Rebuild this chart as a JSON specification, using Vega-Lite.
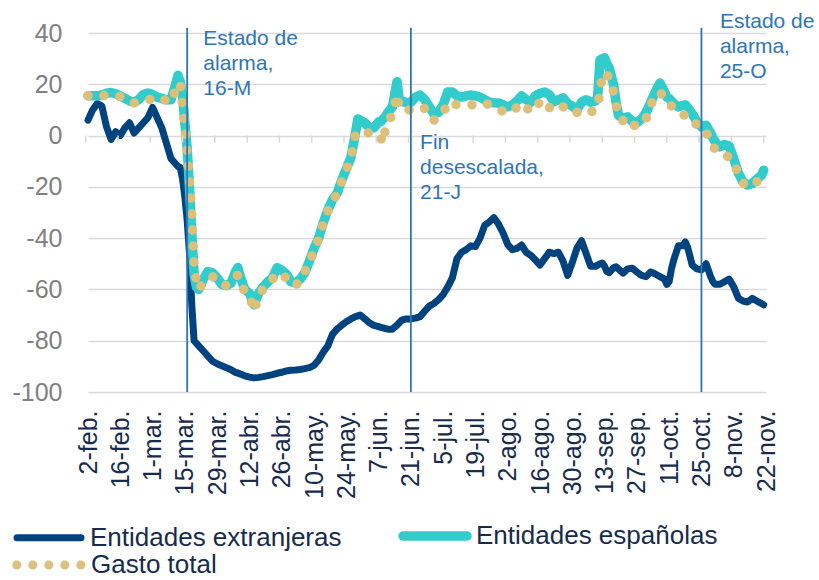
{
  "$schema": "https://vega.github.io/schema/vega-lite/v6.json",
  "width": 678,
  "height": 359,
  "autosize": "none",
  "padding": {"left": 88, "top": 33, "right": 53, "bottom": 188},
  "background": "white",
  "config": {"view": {"stroke": null}, "font": "Liberation Sans"},
  "datasets": {
    "series": [
      {"d":"2020-02-02","e":6,"s":15.5,"g":15.5},
      {"d":"2020-02-04","e":10,"s":15.5,"g":15.5},
      {"d":"2020-02-06","e":12.5,"s":15.5,"g":15.4},
      {"d":"2020-02-08","e":11.5,"s":15.8,"g":15.5},
      {"d":"2020-02-10","e":3.5,"s":16.5,"g":15.7},
      {"d":"2020-02-12","e":-1.5,"s":16.8,"g":15.8},
      {"d":"2020-02-14","e":1.5,"s":16.3,"g":15.5},
      {"d":"2020-02-16","e":0,"s":15.5,"g":15.2},
      {"d":"2020-02-18","e":3,"s":14.5,"g":14.5},
      {"d":"2020-02-20","e":5,"s":13.5,"g":13.3},
      {"d":"2020-02-22","e":1,"s":13,"g":12.7},
      {"d":"2020-02-24","e":3,"s":14,"g":13},
      {"d":"2020-02-26","e":5,"s":16,"g":13.5},
      {"d":"2020-02-28","e":7,"s":16.6,"g":13.8},
      {"d":"2020-03-01","e":11,"s":16,"g":14.5},
      {"d":"2020-03-03","e":7,"s":15,"g":15},
      {"d":"2020-03-05","e":3,"s":14.5,"g":14.5},
      {"d":"2020-03-07","e":-3,"s":14,"g":13.5},
      {"d":"2020-03-09","e":-9,"s":14,"g":13},
      {"d":"2020-03-11","e":-11,"s":20,"g":18},
      {"d":"2020-03-12","e":-12,"s":23.5,"g":20},
      {"d":"2020-03-13","e":-12.5,"s":21,"g":20.5},
      {"d":"2020-03-14","e":-17,"s":15,"g":12},
      {"d":"2020-03-15","e":-24,"s":5,"g":3},
      {"d":"2020-03-16","e":-33,"s":-5,"g":-7},
      {"d":"2020-03-17","e":-46,"s":-20,"g":-16},
      {"d":"2020-03-18","e":-66,"s":-38,"g":-30},
      {"d":"2020-03-19","e":-80,"s":-54,"g":-50},
      {"d":"2020-03-20","e":-81,"s":-59,"g":-57},
      {"d":"2020-03-21","e":-82,"s":-60,"g":-60},
      {"d":"2020-03-23","e":-84,"s":-56,"g":-57.5},
      {"d":"2020-03-25","e":-86,"s":-53,"g":-55.5},
      {"d":"2020-03-27","e":-88,"s":-53.5,"g":-55},
      {"d":"2020-03-29","e":-89,"s":-55.5,"g":-56.5},
      {"d":"2020-03-31","e":-89.8,"s":-58,"g":-58.3},
      {"d":"2020-04-02","e":-90.5,"s":-58.5,"g":-58.5},
      {"d":"2020-04-04","e":-91.3,"s":-57.5,"g":-57.5},
      {"d":"2020-04-06","e":-92.4,"s":-53,"g":-55},
      {"d":"2020-04-07","e":-92.6,"s":-51.5,"g":-54.4},
      {"d":"2020-04-08","e":-93,"s":-55,"g":-57},
      {"d":"2020-04-10","e":-93.7,"s":-60,"g":-61},
      {"d":"2020-04-12","e":-94.2,"s":-61.5,"g":-62.2},
      {"d":"2020-04-14","e":-94.5,"s":-66,"g":-68.5},
      {"d":"2020-04-16","e":-94.3,"s":-61.5,"g":-62.2},
      {"d":"2020-04-18","e":-94,"s":-59,"g":-59.8},
      {"d":"2020-04-20","e":-93.6,"s":-57,"g":-58},
      {"d":"2020-04-22","e":-93.2,"s":-55.5,"g":-56},
      {"d":"2020-04-24","e":-92.7,"s":-51.5,"g":-53.6},
      {"d":"2020-04-26","e":-92.3,"s":-52.5,"g":-54.5},
      {"d":"2020-04-28","e":-91.8,"s":-54,"g":-55.5},
      {"d":"2020-04-30","e":-91.5,"s":-57,"g":-58},
      {"d":"2020-05-02","e":-91.4,"s":-57.5,"g":-58.5},
      {"d":"2020-05-04","e":-91.2,"s":-56,"g":-56.5},
      {"d":"2020-05-06","e":-90.9,"s":-53.5,"g":-53},
      {"d":"2020-05-08","e":-90.5,"s":-49,"g":-49.5},
      {"d":"2020-05-10","e":-89.6,"s":-44,"g":-45},
      {"d":"2020-05-12","e":-87.5,"s":-40,"g":-40.5},
      {"d":"2020-05-14","e":-84.5,"s":-34,"g":-34.5},
      {"d":"2020-05-16","e":-82,"s":-29,"g":-29.5},
      {"d":"2020-05-18","e":-77.5,"s":-25,"g":-25.5},
      {"d":"2020-05-20","e":-75.5,"s":-22.5,"g":-23},
      {"d":"2020-05-22","e":-74,"s":-17.5,"g":-18},
      {"d":"2020-05-24","e":-72.6,"s":-13,"g":-13.5},
      {"d":"2020-05-26","e":-71.5,"s":-8.5,"g":-9},
      {"d":"2020-05-28","e":-70.6,"s":1,"g":0.5},
      {"d":"2020-05-29","e":-70.3,"s":6.5,"g":1.5},
      {"d":"2020-05-30","e":-70,"s":6,"g":1.5},
      {"d":"2020-06-01","e":-71.4,"s":5,"g":1},
      {"d":"2020-06-03","e":-73,"s":3,"g":1},
      {"d":"2020-06-05","e":-74,"s":3,"g":1},
      {"d":"2020-06-07","e":-74.5,"s":5.3,"g":0.5},
      {"d":"2020-06-08","e":-74.8,"s":5.5,"g":-1},
      {"d":"2020-06-09","e":-75,"s":6.5,"g":-3},
      {"d":"2020-06-10","e":-75.3,"s":7.5,"g":3},
      {"d":"2020-06-11","e":-75.5,"s":9,"g":5.5},
      {"d":"2020-06-13","e":-75.5,"s":11.2,"g":8},
      {"d":"2020-06-15","e":-73.9,"s":21,"g":16},
      {"d":"2020-06-16","e":-73,"s":14,"g":11},
      {"d":"2020-06-17","e":-72,"s":13.5,"g":10},
      {"d":"2020-06-19","e":-71.5,"s":12.8,"g":10},
      {"d":"2020-06-21","e":-71.5,"s":13,"g":10},
      {"d":"2020-06-23","e":-71.2,"s":15,"g":10.5},
      {"d":"2020-06-25","e":-70.6,"s":15.8,"g":11.2},
      {"d":"2020-06-27","e":-68.5,"s":14,"g":10.5},
      {"d":"2020-06-29","e":-66.5,"s":11.2,"g":7},
      {"d":"2020-07-01","e":-65.5,"s":8.5,"g":6},
      {"d":"2020-07-03","e":-64,"s":9,"g":7.5},
      {"d":"2020-07-05","e":-62,"s":12,"g":8.5},
      {"d":"2020-07-07","e":-59,"s":17,"g":13},
      {"d":"2020-07-09","e":-55.5,"s":17,"g":12.5},
      {"d":"2020-07-11","e":-48,"s":15.5,"g":12},
      {"d":"2020-07-13","e":-45.5,"s":15,"g":12},
      {"d":"2020-07-15","e":-44.5,"s":15.5,"g":12},
      {"d":"2020-07-17","e":-43,"s":15.8,"g":12},
      {"d":"2020-07-19","e":-43.3,"s":15.5,"g":12},
      {"d":"2020-07-21","e":-40,"s":15,"g":12.5},
      {"d":"2020-07-23","e":-35,"s":14,"g":12.7},
      {"d":"2020-07-25","e":-33.7,"s":13,"g":12},
      {"d":"2020-07-27","e":-32,"s":12.8,"g":11},
      {"d":"2020-07-29","e":-34.5,"s":12.7,"g":10},
      {"d":"2020-07-31","e":-38,"s":12,"g":9.5},
      {"d":"2020-08-02","e":-42.5,"s":11.2,"g":8.8},
      {"d":"2020-08-04","e":-44.5,"s":12,"g":9.5},
      {"d":"2020-08-06","e":-44,"s":13.5,"g":11},
      {"d":"2020-08-08","e":-42.7,"s":15.5,"g":12.7},
      {"d":"2020-08-10","e":-45.5,"s":14,"g":11},
      {"d":"2020-08-12","e":-46.7,"s":13,"g":9.2},
      {"d":"2020-08-14","e":-48.5,"s":15.5,"g":11.2},
      {"d":"2020-08-16","e":-50.5,"s":16.5,"g":13},
      {"d":"2020-08-18","e":-48,"s":17,"g":13.9},
      {"d":"2020-08-20","e":-45.5,"s":16,"g":11},
      {"d":"2020-08-22","e":-46,"s":13.2,"g":9.5},
      {"d":"2020-08-24","e":-45.5,"s":14,"g":10.5},
      {"d":"2020-08-26","e":-49,"s":14.7,"g":11.2},
      {"d":"2020-08-28","e":-54.5,"s":12.5,"g":10.5},
      {"d":"2020-08-30","e":-49.5,"s":11.5,"g":8.8},
      {"d":"2020-09-01","e":-44,"s":10,"g":9},
      {"d":"2020-09-03","e":-41,"s":13,"g":10},
      {"d":"2020-09-05","e":-46,"s":14,"g":9.2},
      {"d":"2020-09-07","e":-51,"s":13,"g":9.2},
      {"d":"2020-09-09","e":-51,"s":13.5,"g":10},
      {"d":"2020-09-10","e":-50.5,"s":15,"g":11.2},
      {"d":"2020-09-11","e":-50,"s":29.5,"g":17},
      {"d":"2020-09-12","e":-49.7,"s":30,"g":23.6},
      {"d":"2020-09-13","e":-51,"s":30.3,"g":24},
      {"d":"2020-09-14","e":-53,"s":28,"g":24.4},
      {"d":"2020-09-15","e":-53.5,"s":26.4,"g":21},
      {"d":"2020-09-16","e":-52.5,"s":23,"g":19},
      {"d":"2020-09-17","e":-51.5,"s":19.5,"g":17},
      {"d":"2020-09-18","e":-51.2,"s":13,"g":12},
      {"d":"2020-09-19","e":-52,"s":8,"g":7.5},
      {"d":"2020-09-21","e":-53.6,"s":6.5,"g":5.8},
      {"d":"2020-09-23","e":-52,"s":7.3,"g":6.9},
      {"d":"2020-09-25","e":-51.7,"s":5.5,"g":4.5},
      {"d":"2020-09-27","e":-53.2,"s":5,"g":3.4},
      {"d":"2020-09-29","e":-54.5,"s":6.5,"g":5},
      {"d":"2020-10-01","e":-55,"s":9,"g":6.5},
      {"d":"2020-10-03","e":-53.2,"s":13,"g":12},
      {"d":"2020-10-05","e":-54,"s":17,"g":15},
      {"d":"2020-10-07","e":-55,"s":20.5,"g":17},
      {"d":"2020-10-09","e":-56,"s":17,"g":14.5},
      {"d":"2020-10-10","e":-58,"s":15,"g":13},
      {"d":"2020-10-11","e":-57,"s":14.5,"g":12.5},
      {"d":"2020-10-12","e":-52,"s":13.5,"g":11.5},
      {"d":"2020-10-13","e":-48.5,"s":12.5,"g":10.5},
      {"d":"2020-10-15","e":-43,"s":11.2,"g":8.8},
      {"d":"2020-10-17","e":-43,"s":11.8,"g":8},
      {"d":"2020-10-18","e":-41.5,"s":12,"g":8},
      {"d":"2020-10-19","e":-43.5,"s":11,"g":7.5},
      {"d":"2020-10-21","e":-50.5,"s":8.5,"g":6.9},
      {"d":"2020-10-23","e":-52,"s":5.5,"g":4},
      {"d":"2020-10-25","e":-52.4,"s":3.4,"g":1.4},
      {"d":"2020-10-27","e":-50,"s":4,"g":1},
      {"d":"2020-10-29","e":-55,"s":1,"g":-1},
      {"d":"2020-10-30","e":-57,"s":-1,"g":-4},
      {"d":"2020-10-31","e":-58,"s":-2.5,"g":-5.7},
      {"d":"2020-11-02","e":-58,"s":-4.4,"g":-6.5},
      {"d":"2020-11-04","e":-57,"s":-3.5,"g":-7.6},
      {"d":"2020-11-06","e":-56,"s":-4,"g":-8.4},
      {"d":"2020-11-08","e":-59,"s":-9,"g":-10.7},
      {"d":"2020-11-10","e":-63.4,"s":-14.6,"g":-15},
      {"d":"2020-11-12","e":-64.5,"s":-18,"g":-18.5},
      {"d":"2020-11-14","e":-64.9,"s":-19.3,"g":-20},
      {"d":"2020-11-16","e":-63.5,"s":-18.7,"g":-19},
      {"d":"2020-11-18","e":-64.5,"s":-17,"g":-18.1},
      {"d":"2020-11-20","e":-65.5,"s":-15.5,"g":-16.5},
      {"d":"2020-11-21","e":-66,"s":-13.5,"g":-14}
    ],
    "ticks": [
      {"d":"2020-02-01"},{"d":"2020-02-15"},{"d":"2020-02-29"},{"d":"2020-03-14"},
      {"d":"2020-03-28"},{"d":"2020-04-11"},{"d":"2020-04-25"},{"d":"2020-05-09"},
      {"d":"2020-05-23"},{"d":"2020-06-06"},{"d":"2020-06-20"},{"d":"2020-07-04"},
      {"d":"2020-07-18"},{"d":"2020-08-01"},{"d":"2020-08-15"},{"d":"2020-08-29"},
      {"d":"2020-09-12"},{"d":"2020-09-26"},{"d":"2020-10-10"},{"d":"2020-10-24"},
      {"d":"2020-11-07"},{"d":"2020-11-21"}
    ],
    "events": [
      {"d":"2020-03-16"},{"d":"2020-06-21"},{"d":"2020-10-25"}
    ],
    "notes": [
      {"d":"2020-03-23","y":41.8,"t":"Estado de|alarma,|16-M"},
      {"d":"2020-06-25","y":1.3,"t":"Fin|desescalada,|21-J"},
      {"d":"2020-11-02","y":48.6,"t":"Estado de|alarma,|25-O"}
    ]
  },
  "encoding": {
    "x": {
      "field": "d",
      "type": "temporal",
      "scale": {"type": "utc", "domain": [1580601600000, 1606003200000]},
      "axis": {
        "title": null,
        "values": [1580601600000,1581811200000,1583020800000,1584230400000,1585440000000,1586649600000,1587859200000,1589068800000,1590278400000,1591488000000,1592697600000,1593907200000,1595116800000,1596326400000,1597536000000,1598745600000,1599955200000,1601164800000,1602374400000,1603584000000,1604793600000,1606003200000],
        "labelExpr": "utcdate(datum.value) + '-' + ['ene','feb','mar','abr','may','jun','jul','ago','sep','oct','nov','dic'][utcmonth(datum.value)] + '.'",
        "labelAngle": -90,
        "labelAlign": "right",
        "labelBaseline": "middle",
        "labelFontSize": 25,
        "labelColor": "#172b4d",
        "labelPadding": 18,
        "labelOverlap": false,
        "labelFlush": false,
        "domain": false,
        "ticks": false,
        "grid": false
      }
    }
  },
  "layer": [
    {
      "data": {"name": "series"},
      "transform": [{"fold": ["e", "s"], "as": ["k", "v"]}],
      "mark": {"type": "line", "strokeCap": "round", "strokeJoin": "round"},
      "encoding": {
        "y": {
          "field": "v",
          "type": "quantitative",
          "scale": {"domain": [-100, 40]},
          "axis": {
            "title": null,
            "values": [-100, -80, -60, -40, -20, 0, 20, 40],
            "labelExpr": "toString(datum.value)",
            "grid": true,
            "gridColor": "#d9d9d9",
            "gridWidth": 1.5,
            "domain": false,
            "ticks": false,
            "labelFontSize": 25,
            "labelColor": "#808080",
            "labelPadding": 26
          }
        },
        "color": {
          "field": "k",
          "type": "nominal",
          "scale": {"domain": ["e", "s"], "range": ["#01437f", "#33cccc"]},
          "legend": {
            "title": null,
            "orient": "none",
            "legendX": -76,
            "legendY": 466,
            "columns": 2,
            "direction": "horizontal",
            "symbolType": "stroke",
            "symbolSize": 4096,
            "symbolStrokeWidth": 8.5,
            "labelFontSize": 26,
            "labelColor": "#172b4d",
            "labelOffset": 4,
            "labelLimit": 500,
            "columnPadding": 42,
            "padding": 0,
            "labelExpr": "datum.label == 'e' ? 'Entidades extranjeras' : 'Entidades españolas'",
            "encode": {"symbols": {"update": {"strokeCap": {"value": "round"}}}}
          }
        },
        "strokeWidth": {
          "field": "k",
          "type": "nominal",
          "scale": {"type": "ordinal", "domain": ["e", "s"], "range": [7, 9.5]},
          "legend": null
        }
      }
    },
    {
      "data": {"name": "series"},
      "transform": [{"fold": ["g"], "as": ["k", "v"]}],
      "mark": {"type": "line", "strokeCap": "round", "strokeJoin": "round", "color": "#dcc07a", "strokeWidth": 9.5},
      "encoding": {
        "y": {
          "field": "v",
          "type": "quantitative",
          "scale": {"domain": [-100, 40]},
          "axis": {"title": null, "values": [-100, -80, -60, -40, -20, 0, 20, 40], "labelExpr": "toString(datum.value)", "grid": true, "gridColor": "#d9d9d9", "gridWidth": 1.5, "domain": false, "ticks": false, "labelFontSize": 25, "labelColor": "#808080", "labelPadding": 26}
        },
        "strokeDash": {
          "field": "k",
          "type": "nominal",
          "scale": {"domain": ["g"], "range": [[0, 16]]},
          "legend": {
            "title": null,
            "orient": "none",
            "legendX": -76,
            "legendY": 494,
            "symbolType": "stroke",
            "symbolSize": 4400,
            "symbolStrokeWidth": 9,
            "symbolStrokeColor": "#dcc07a",
            "labelFontSize": 26,
            "labelColor": "#172b4d",
            "labelOffset": 3,
            "labelLimit": 500,
            "padding": 0,
            "labelExpr": "'Gasto total'",
            "encode": {"symbols": {"update": {"strokeCap": {"value": "round"}, "stroke": {"value": "#dcc07a"}}}}
          }
        }
      }
    },
    {
      "data": {"name": "ticks"},
      "mark": {"type": "rule", "color": "#d9d9d9", "strokeWidth": 1.5},
      "encoding": {
        "y": {"datum": 0, "type": "quantitative", "scale": {"domain": [-100, 40]}, "axis": {"title": null, "values": [-100, -80, -60, -40, -20, 0, 20, 40], "labelExpr": "toString(datum.value)", "grid": true, "gridColor": "#d9d9d9", "gridWidth": 1.5, "domain": false, "ticks": false, "labelFontSize": 25, "labelColor": "#808080", "labelPadding": 26}},
        "y2": {"datum": -2.7}
      }
    },
    {
      "data": {"name": "events"},
      "mark": {"type": "rule", "color": "#2e75b6", "strokeWidth": 1.8},
      "encoding": {
        "y": {"datum": -100, "type": "quantitative", "scale": {"domain": [-100, 40]}, "axis": {"title": null, "values": [-100, -80, -60, -40, -20, 0, 20, 40], "labelExpr": "toString(datum.value)", "grid": true, "gridColor": "#d9d9d9", "gridWidth": 1.5, "domain": false, "ticks": false, "labelFontSize": 25, "labelColor": "#808080", "labelPadding": 26}},
        "y2": {"datum": 42}
      }
    },
    {
      "data": {"name": "notes"},
      "mark": {"type": "text", "align": "left", "baseline": "top", "fontSize": 21, "lineHeight": 25, "lineBreak": "|", "color": "#2e75b6"},
      "encoding": {
        "y": {"field": "y", "type": "quantitative", "scale": {"domain": [-100, 40]}, "axis": {"title": null, "values": [-100, -80, -60, -40, -20, 0, 20, 40], "labelExpr": "toString(datum.value)", "grid": true, "gridColor": "#d9d9d9", "gridWidth": 1.5, "domain": false, "ticks": false, "labelFontSize": 25, "labelColor": "#808080", "labelPadding": 26}},
        "text": {"field": "t", "type": "nominal"}
      }
    }
  ]
}
